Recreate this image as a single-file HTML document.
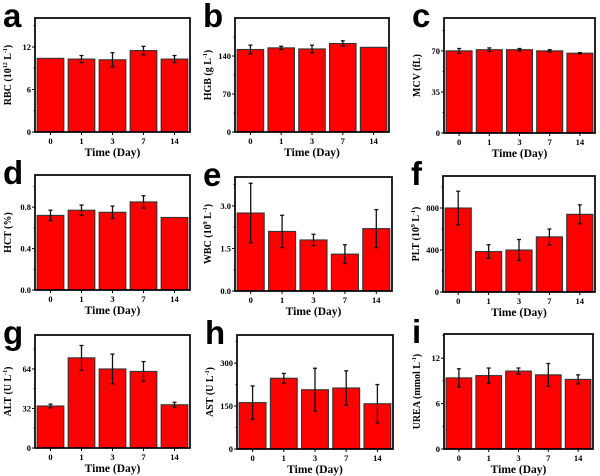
<!DOCTYPE html>
<html><head><meta charset="utf-8"><style>
body{margin:0;background:#fff;}
svg{display:block;}
</style></head><body>
<svg id="fig" width="600" height="476" xmlns="http://www.w3.org/2000/svg"></svg>
<script>
const categories = ["0","1","3","7","14"];
const rbcValues = [10.4,10.3,10.2,11.5,10.3];
const rbcErrors = [0,0.5,1.0,0.6,0.5];
const hgbValues = [152,155,153,163,156];
const hgbErrors = [8,3,7,5,0];
const mcvValues = [70,71,71,70,68];
const mcvErrors = [2,1.5,1,1,0.5];
const hctValues = [0.72,0.77,0.75,0.85,0.70];
const hctErrors = [0.05,0.05,0.06,0.06,0];
const wbcValues = [2.75,2.1,1.8,1.3,2.2];
const wbcErrors = [1.05,0.57,0.2,0.33,0.67];
const pltValues = [800,385,400,525,740];
const pltErrors = [160,65,100,75,90];
const altValues = [34,73,64,62,35];
const altErrors = [1.5,10,12,8,2];
const astValues = [162,247,207,213,158];
const astErrors = [58,17,75,60,67];
const ureaValues = [9.4,9.7,10.3,9.8,9.2];
const ureaErrors = [1.2,1.0,0.4,1.5,0.6];
const rbcTicks = ["0","6","12"];
const hgbTicks = ["0","70","140"];
const mcvTicks = ["0","35","70"];
const hctTicks = ["0.0","0.4","0.8"];
const wbcTicks = ["0.0","1.5","3.0"];
const pltTicks = ["0","400","800"];
const altTicks = ["0","32","64"];
const astTicks = ["0","150","300"];
const ureaTicks = ["0","6","12"];

const NS="http://www.w3.org/2000/svg";
const svg=document.getElementById('fig');
function mk(tag,attrs,parent){const e=document.createElementNS(NS,tag);for(const k in attrs)e.setAttribute(k,attrs[k]);(parent||svg).appendChild(e);return e;}

const panels=[
 {id:"rbc",letter:"a",L:35,R:190,T:18,B:132,max:16.1,vals:rbcValues,errs:rbcErrors,ticks:rbcTicks,label:"RBC (10<tspan font-size='6' dy='-4'>12</tspan><tspan dy='4'> L</tspan><tspan font-size='6' dy='-4'>-1</tspan><tspan dy='4'>)</tspan>"},
 {id:"hgb",letter:"b",L:235,R:389,T:18,B:132,max:210,vals:hgbValues,errs:hgbErrors,ticks:hgbTicks,label:"HGB (g L<tspan font-size='6' dy='-4'>-1</tspan><tspan dy='4'>)</tspan>"},
 {id:"mcv",letter:"c",L:444,R:595,T:18,B:133,max:98,vals:mcvValues,errs:mcvErrors,ticks:mcvTicks,label:"MCV (fL)"},
 {id:"hct",letter:"d",L:35,R:190,T:175,B:290,max:1.11,vals:hctValues,errs:hctErrors,ticks:hctTicks,label:"HCT (%)"},
 {id:"wbc",letter:"e",L:235,R:392,T:177,B:291,max:4.02,vals:wbcValues,errs:wbcErrors,ticks:wbcTicks,label:"WBC (10<tspan font-size='6' dy='-4'>9</tspan><tspan dy='4'> L</tspan><tspan font-size='6' dy='-4'>-1</tspan><tspan dy='4'>)</tspan>"},
 {id:"plt",letter:"f",L:443,R:595,T:176,B:292,max:1105,vals:pltValues,errs:pltErrors,ticks:pltTicks,label:"PLT (10<tspan font-size='6' dy='-4'>9</tspan><tspan dy='4'> L</tspan><tspan font-size='6' dy='-4'>-1</tspan><tspan dy='4'>)</tspan>"},
 {id:"alt",letter:"g",L:35,R:190,T:335,B:448,max:91.5,vals:altValues,errs:altErrors,ticks:altTicks,label:"ALT (U L<tspan font-size='6' dy='-4'>-1</tspan><tspan dy='4'>)</tspan>"},
 {id:"ast",letter:"h",L:237,R:393,T:335,B:449,max:398,vals:astValues,errs:astErrors,ticks:astTicks,label:"AST (U L<tspan font-size='6' dy='-4'>-1</tspan><tspan dy='4'>)</tspan>"},
 {id:"urea",letter:"i",L:444,R:593,T:334,B:449,max:15.2,vals:ureaValues,errs:ureaErrors,ticks:ureaTicks,label:"UREA (mmol L<tspan font-size='6' dy='-4'>-1</tspan><tspan dy='4'>)</tspan>"}
];
const serif='"Liberation Serif", serif';
panels.forEach(p=>{
 const g=mk('g',{});
 
 
 const y=v=>p.B-(v/p.max)*(p.B-p.T);
 const slot=(p.R-p.L)/categories.length;
 const bw=slot*0.86;
 const xc=i=>p.L+slot*(i+0.5);
 p.vals.forEach((v,i)=>{
  const r=mk('rect',{x:xc(i)-bw/2,y:y(v),width:bw,height:p.B-y(v),fill:'#ff0000',stroke:'#333','stroke-width':1.1},g);
  
  
 });
 p.vals.forEach((v,i)=>{
  const e=p.errs[i]; if(!e) return;
  const eg=mk('g',{stroke:'#111','stroke-width':1.3},g);
  
  
  mk('line',{x1:xc(i),x2:xc(i),y1:y(v+e),y2:y(v-e)},eg);
  mk('line',{x1:xc(i)-2,x2:xc(i)+2,y1:y(v+e),y2:y(v+e)},eg);
  mk('line',{x1:xc(i)-2,x2:xc(i)+2,y1:y(v-e),y2:y(v-e)},eg);
 });
 const f=mk('rect',{x:p.L,y:p.T,width:p.R-p.L,height:p.B-p.T,fill:'none',stroke:'#000','stroke-width':1.7},g);
 
 
 const step=parseFloat(p.ticks[1]);
 p.ticks.forEach(t=>{
  const v=parseFloat(t), yy=y(v);
  mk('line',{x1:p.L-3,x2:p.L,y1:yy,y2:yy,stroke:'#000','stroke-width':1},g);
  const tx=mk('text',{x:p.L-4,y:yy+3,'text-anchor':'end','font-family':serif,'font-size':8.5,'font-weight':'bold'},g);
  tx.textContent=t;
  
  
 });
 for(let v=step/2;v<p.max;v+=step){mk('line',{x1:p.L-1.5,x2:p.L,y1:y(v),y2:y(v),stroke:'#000','stroke-width':0.8},g);}
 categories.forEach((c,i)=>{
  mk('line',{x1:xc(i),x2:xc(i),y1:p.B,y2:p.B+3,stroke:'#000','stroke-width':1},g);
  const tx=mk('text',{x:xc(i),y:p.B+12,'text-anchor':'middle','font-family':serif,'font-size':8.5,'font-weight':'bold'},g);
  tx.textContent=c;
  
  
 });
 const xt=mk('text',{x:(p.L+p.R)/2,y:p.B+24,'text-anchor':'middle','font-family':serif,'font-size':11.5,'font-weight':'bold'},g);
 xt.textContent='Time (Day)';
 
 
 const cy=(p.T+p.B)/2, cx=p.L-24;
 const yt=mk('text',{x:cx,y:cy,transform:`rotate(-90 ${cx} ${cy})`,'text-anchor':'middle','font-family':serif,'font-size':10,'font-weight':'bold'},g);
 yt.innerHTML=p.label;
 
 
 const lt=mk('text',{x:p.L-32,y:p.T+9,'font-family':'"Liberation Sans", sans-serif','font-size':33,'font-weight':'bold'},g);
 lt.textContent=p.letter;
 
 
});
</script>
</body></html>
